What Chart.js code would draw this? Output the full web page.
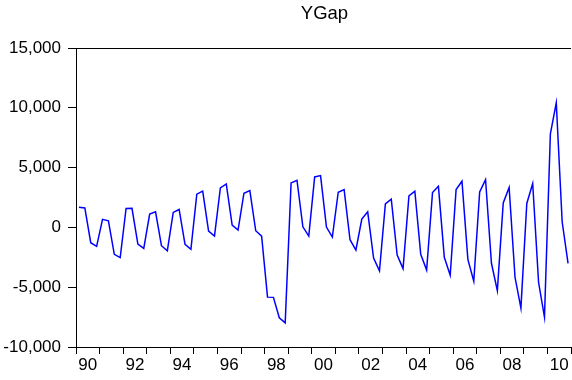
<!DOCTYPE html>
<html>
<head>
<meta charset="utf-8">
<script src="https://cdn.jsdelivr.net/npm/chart.js@4/dist/chart.umd.min.js"></script>
<style>
  html, body { margin: 0; padding: 0; background: #fff; }
  canvas { display: block; }
</style>
</head>
<body>
<canvas id="c" width="572" height="380"></canvas>
<script>
// Quarterly output gap, 1990Q1 - 2010Q4
const firstYear = 1990;
const quarterNames = ['Q1', 'Q2', 'Q3', 'Q4'];
const ygap = [
  1690, 1630, -1280, -1580,    // 1990
  670, 550, -2250, -2530,      // 1991
  1580, 1600, -1390, -1750,    // 1992
  1110, 1300, -1530, -1950,    // 1993
  1250, 1500, -1420, -1830,    // 1994
  2780, 3030, -310, -725,      // 1995
  3300, 3630, 190, -225,       // 1996
  2860, 3080, -280, -725,      // 1997
  -5830, -5850, -7560, -7980,  // 1998
  3720, 3940, 50, -725,        // 1999
  4220, 4330, 25, -810,        // 2000
  2940, 3160, -1030, -1890,    // 2001
  690, 1300, -2560, -3640,     // 2002
  1970, 2360, -2310, -3450,    // 2003
  2640, 3030, -2250, -3560,    // 2004
  2920, 3440, -2500, -4000,    // 2005
  3160, 3860, -2670, -4500,    // 2006
  2970, 4000, -3000, -5280,    // 2007
  2050, 3330, -4170, -6750,    // 2008
  2000, 3670, -4610, -7500,    // 2009
  7830, 10420, 470, -3000      // 2010
];
const yearLabels = ['90', '92', '94', '96', '98', '00', '02', '04', '06', '08', '10'];
const yTicks = [-10000, -5000, 0, 5000, 10000, 15000];

const nQuarters = ygap.length;
const periods = ygap.map((_, i) => (firstYear + Math.floor(i / 4)) + quarterNames[i % 4]);
// each observation sits in the middle of its quarter on the time axis
const points = ygap.map((v, i) => ({ x: i + 0.5, y: v, label: periods[i] }));

const FONT = "'Liberation Sans', Arial, Helvetica, sans-serif";

const frame = {
  id: 'frame',
  afterDraw(chart) {
    const { ctx, chartArea: a } = chart;
    ctx.save();
    ctx.strokeStyle = '#000';
    ctx.lineWidth = 1;
    ctx.beginPath();
    ctx.moveTo(a.left, Math.round(a.top) + 0.5);
    ctx.lineTo(a.right, Math.round(a.top) + 0.5);
    ctx.stroke();
    ctx.fillStyle = '#000';
    ctx.font = '18.5px ' + FONT;
    ctx.textAlign = 'center';
    ctx.textBaseline = 'alphabetic';
    ctx.fillText('YGap', (a.left + a.right) / 2 + 1, 19);
    ctx.restore();
  }
};

new Chart(document.getElementById('c'), {
  type: 'line',
  data: {
    datasets: [{
      label: 'YGap',
      data: points,
      borderColor: '#0000ff',
      borderWidth: 1.5,
      pointRadius: 0,
      tension: 0,
      fill: false
    }]
  },
  options: {
    responsive: false,
    animation: false,
    layout: { padding: { top: 48, right: 0, left: 0, bottom: 0 } },
    plugins: {
      legend: { display: false },
      tooltip: { enabled: false },
      title: { display: false }
    },
    scales: {
      x: {
        type: 'linear',
        min: 0,
        max: nQuarters,
        afterBuildTicks(scale) {
          const t = [];
          for (let v = 0; v <= nQuarters; v += 2) t.push({ value: v });
          scale.ticks = t;
        },
        afterFit(scale) { scale.height = 33; },
        ticks: {
          autoSkip: false,
          maxRotation: 0,
          minRotation: 0,
          padding: 1,
          color: '#000',
          font: { family: FONT, size: 17 },
          callback(v) {
            if ((v - 2) % 8 === 0) return yearLabels[(v - 2) / 8];
            return '';
          }
        },
        grid: {
          drawOnChartArea: false,
          drawTicks: true,
          tickLength: 7,
          tickWidth: 1,
          tickColor(ctx) {
            return ctx.tick && ctx.tick.value % 4 === 0 ? '#000' : 'rgba(0,0,0,0)';
          }
        },
        border: { display: true, color: '#000', width: 1 }
      },
      y: {
        type: 'linear',
        min: yTicks[0],
        max: yTicks[yTicks.length - 1],
        afterBuildTicks(scale) {
          scale.ticks = yTicks.map(v => ({ value: v }));
        },
        afterFit(scale) { scale.width = 76; },
        ticks: {
          padding: 7,
          color: '#000',
          font: { family: FONT, size: 17 },
          callback(v) { return v.toLocaleString('en-US'); }
        },
        grid: {
          drawOnChartArea: false,
          drawTicks: true,
          tickLength: 8,
          tickWidth: 1,
          tickColor: '#000'
        },
        border: { display: true, color: '#000', width: 1 }
      }
    }
  },
  plugins: [frame]
});
</script>
</body>
</html>
